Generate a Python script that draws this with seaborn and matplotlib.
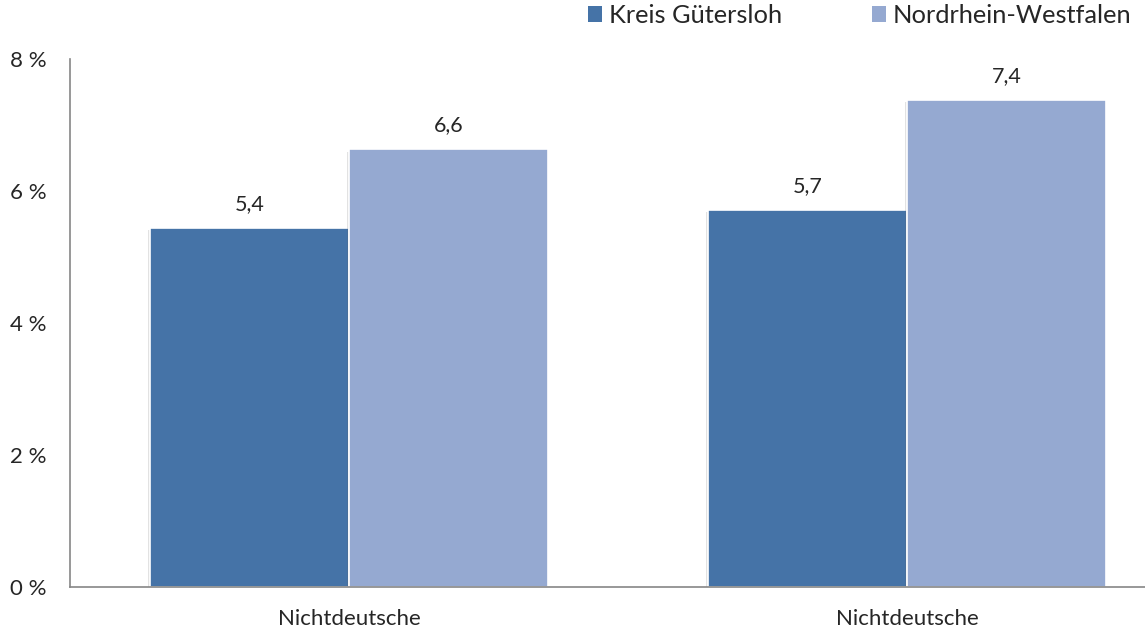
import numpy as np
import pandas as pd
import matplotlib
matplotlib.use('Agg')
import matplotlib.pyplot as plt
import matplotlib.patheffects as pe
from matplotlib.patches import Patch
import seaborn as sns

# Daten
kategorien = ['Nichtdeutsche', 'Nichtdeutsche ']
gruppen = ['Kreis Gütersloh', 'Nordrhein-Westfalen']
werte_gt = [5.44, 5.71]
werte_nrw = [6.63, 7.38]
farben = ['#4573A7', '#95A9D1']

df = pd.DataFrame({
    'kategorie': kategorien * 2,
    'gruppe': [gruppen[0]] * 2 + [gruppen[1]] * 2,
    'wert': werte_gt + werte_nrw,
})

sns.set_style('white')
plt.rcParams['font.family'] = ['Lato', 'DejaVu Sans']

fig = plt.figure(figsize=(11.45, 6.32), dpi=100)
ax = fig.add_axes([70 / 1145, 45 / 632, 1 - 70 / 1145, (587 - 59) / 632])

sns.barplot(data=df, x='kategorie', y='wert', hue='gruppe',
            palette=farben, width=0.713, edgecolor='white', linewidth=1.2,
            saturation=1, ax=ax, legend=False)

for p in ax.patches:
    p.set_path_effects([pe.SimplePatchShadow(offset=(-1.5, -1.5), alpha=0.18,
                                             shadow_rgbFace='#606060'),
                        pe.Normal()])

for cont in ax.containers:
    ax.bar_label(cont, labels=[f'{v:.1f}'.replace('.', ',') for v in cont.datavalues],
                 padding=10, fontsize=15.5)

ax.set_ylim(0, 8)
ax.set_yticks([0, 2, 4, 6, 8])
ax.set_yticklabels([f'{t} %' for t in [0, 2, 4, 6, 8]], fontsize=16)
ax.set_xticks([-0.5, 0.5])
ax.set_xticklabels(['', ''])
ax.set_xticks([0, 1], minor=True)
ax.set_xticklabels(['Nichtdeutsche', 'Nichtdeutsche'], minor=True, fontsize=16)
ax.set_xlim(-0.5, (1145 - 349) / 558)
ax.tick_params(axis='x', which='minor', length=0, pad=16)
ax.tick_params(axis='x', which='major', length=6, color='#868686', direction='out')
ax.tick_params(axis='y', length=6, color='#868686', direction='out', pad=11)
ax.set_xlabel('')
ax.set_ylabel('')

for s in ['top', 'right']:
    ax.spines[s].set_visible(False)
for s in ['left', 'bottom']:
    ax.spines[s].set_color('#868686')
    ax.spines[s].set_linewidth(1.2)

handles = [Patch(facecolor=f, edgecolor='none') for f in farben]
fig.legend(handles, gruppen, ncol=2, loc='upper right', bbox_to_anchor=(1.008, 1.03),
           frameon=False, fontsize=18.3, handlelength=0.55, handleheight=0.55,
           handletextpad=0.28, columnspacing=3.5)

plt.savefig('out.png', dpi=100)
